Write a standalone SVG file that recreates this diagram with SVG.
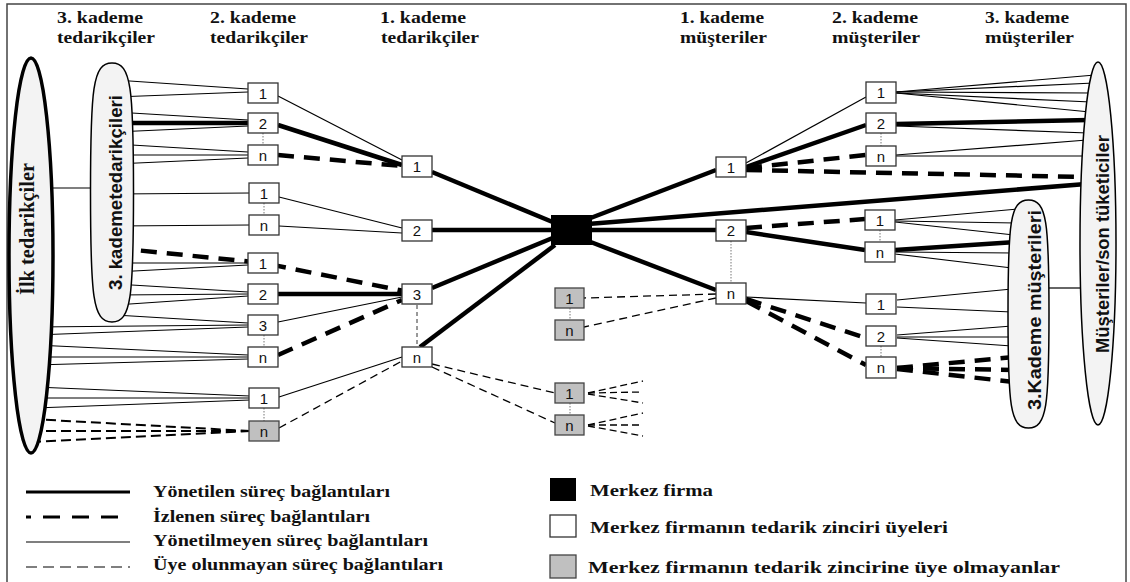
<svg xmlns="http://www.w3.org/2000/svg" width="1130" height="582" viewBox="0 0 1130 582">
<style>
.hd{font-family:"Liberation Serif","Times New Roman","DejaVu Serif",serif;font-weight:bold;font-size:17.5px;fill:#111}
.lg{font-family:"Liberation Serif","Times New Roman","DejaVu Serif",serif;font-weight:bold;font-size:17.5px;fill:#111}
.rs{font-family:"Liberation Sans",Arial,sans-serif;font-weight:bold;fill:#111;text-anchor:middle}
.rt{font-family:"Liberation Serif","Times New Roman","DejaVu Serif",serif;font-weight:bold;fill:#111;text-anchor:middle}
.nl{font-family:"Liberation Sans",Arial,sans-serif;font-size:15px;fill:#111;text-anchor:middle}
.box{fill:#fff;stroke:#333;stroke-width:1.3}
.gbox{fill:#c0c0c0;stroke:#444;stroke-width:1.3}
.m{stroke:#000;stroke-width:4.5;fill:none}
.i{stroke:#000;stroke-width:4.5;stroke-dasharray:16 10;fill:none}
.u{stroke:#000;stroke-width:1.2;fill:none}
.o{stroke:#000;stroke-width:1.3;stroke-dasharray:8 5;fill:none}
.o2{stroke:#000;stroke-width:2;stroke-dasharray:10 5;fill:none}
.os{stroke:#000;stroke-width:1.3;stroke-dasharray:7 4;fill:none}
.d{stroke:#777;stroke-width:1;stroke-dasharray:1.5 1.5;fill:none}
.dd{stroke:#333;stroke-width:1;stroke-dasharray:4 3;fill:none}
.ell{fill:#f3f3f3;stroke:#000;stroke-width:1.5}
</style>
<rect x="7" y="4" width="1119" height="620" fill="#fff" stroke="#444" stroke-width="1.5"/>

<g id="headers">
<text class="hd" x="57" y="23" textLength="86" lengthAdjust="spacingAndGlyphs">3. kademe</text>
<text class="hd" x="57" y="43" textLength="98" lengthAdjust="spacingAndGlyphs">tedarikçiler</text>
<text class="hd" x="210" y="23" textLength="86" lengthAdjust="spacingAndGlyphs">2. kademe</text>
<text class="hd" x="210" y="43" textLength="98" lengthAdjust="spacingAndGlyphs">tedarikçiler</text>
<text class="hd" x="380" y="23" textLength="86" lengthAdjust="spacingAndGlyphs">1. kademe</text>
<text class="hd" x="381" y="43" textLength="98" lengthAdjust="spacingAndGlyphs">tedarikçiler</text>
<text class="hd" x="680" y="23" textLength="84" lengthAdjust="spacingAndGlyphs">1. kademe</text>
<text class="hd" x="680" y="43" textLength="87" lengthAdjust="spacingAndGlyphs">müşteriler</text>
<text class="hd" x="832" y="23" textLength="86" lengthAdjust="spacingAndGlyphs">2. kademe</text>
<text class="hd" x="832" y="43" textLength="88" lengthAdjust="spacingAndGlyphs">müşteriler</text>
<text class="hd" x="985" y="23" textLength="84" lengthAdjust="spacingAndGlyphs">3. kademe</text>
<text class="hd" x="985" y="43" textLength="89" lengthAdjust="spacingAndGlyphs">müşteriler</text>
</g>

<g id="connectors">
<line class="u" x1="115" y1="80" x2="248" y2="89"/>
<line class="u" x1="115" y1="97" x2="248" y2="92"/>
<line class="u" x1="115" y1="112" x2="248" y2="120"/>
<line class="m" x1="115" y1="123" x2="248" y2="123"/>
<line class="u" x1="115" y1="132" x2="248" y2="126"/>
<line class="u" x1="115" y1="144" x2="248" y2="152"/>
<line class="u" x1="115" y1="155" x2="248" y2="155"/>
<line class="u" x1="115" y1="164" x2="248" y2="158"/>
<line class="u" x1="115" y1="194" x2="250" y2="193"/>
<line class="u" x1="115" y1="226" x2="250" y2="225"/>
<line class="u" x1="115" y1="263" x2="248" y2="263"/>
<line class="u" x1="115" y1="272" x2="248" y2="265"/>
<line class="u" x1="115" y1="284" x2="248" y2="292"/>
<line class="u" x1="115" y1="295" x2="248" y2="294"/>
<line class="u" x1="115" y1="305" x2="248" y2="296"/>
<line class="u" x1="115" y1="315" x2="248" y2="323"/>
<line class="u" x1="35" y1="327" x2="248" y2="325"/>
<line class="u" x1="35" y1="335" x2="248" y2="327"/>
<line class="u" x1="35" y1="345" x2="248" y2="355"/>
<line class="u" x1="35" y1="357" x2="248" y2="357"/>
<line class="u" x1="35" y1="365" x2="248" y2="359"/>
<line class="u" x1="35" y1="387" x2="250" y2="396"/>
<line class="u" x1="35" y1="398" x2="250" y2="398"/>
<line class="u" x1="35" y1="408" x2="250" y2="400"/>
<line class="o2" x1="31" y1="419" x2="250" y2="431"/>
<line class="o2" x1="31" y1="431" x2="250" y2="431"/>
<line class="o2" x1="31" y1="442" x2="250" y2="431"/>
<line class="u" x1="53" y1="188" x2="91" y2="188"/>
<line class="u" x1="278" y1="96" x2="402" y2="160"/>
<line class="m" x1="278" y1="125" x2="402" y2="165"/>
<line class="i" x1="278" y1="155" x2="402" y2="166"/>
<line class="u" x1="279" y1="197" x2="402" y2="228"/>
<line class="u" x1="279" y1="226" x2="402" y2="233"/>
<path class="i" d="M115,248 L263,263 L404,291"/>
<line class="m" x1="278" y1="294" x2="402" y2="294"/>
<line class="u" x1="278" y1="322" x2="402" y2="297"/>
<line class="i" x1="278" y1="355" x2="402" y2="300"/>
<line class="u" x1="279" y1="397" x2="402" y2="357"/>
<line class="o" x1="279" y1="428" x2="402" y2="361"/>
<line class="m" x1="432" y1="172" x2="555" y2="223"/>
<line class="m" x1="432" y1="230" x2="555" y2="230"/>
<line class="m" x1="432" y1="288" x2="555" y2="237"/>
<line class="m" x1="420" y1="347" x2="555" y2="245"/>
<line class="o" x1="432" y1="364" x2="555" y2="393"/>
<line class="o" x1="432" y1="367" x2="555" y2="423"/>
<line class="os" x1="588" y1="393" x2="643" y2="381"/>
<line class="os" x1="588" y1="393" x2="643" y2="392"/>
<line class="os" x1="588" y1="394" x2="643" y2="403"/>
<line class="os" x1="588" y1="425" x2="643" y2="413"/>
<line class="os" x1="588" y1="425" x2="643" y2="425"/>
<line class="os" x1="588" y1="426" x2="643" y2="436"/>
<line class="m" x1="588" y1="219" x2="716" y2="170"/>
<line class="m" x1="588" y1="224" x2="1086" y2="184"/>
<line class="m" x1="588" y1="230" x2="716" y2="230"/>
<line class="m" x1="588" y1="241" x2="716" y2="290"/>
<line class="u" x1="746" y1="163" x2="866" y2="97"/>
<line class="m" x1="746" y1="167" x2="866" y2="125"/>
<line class="i" x1="746" y1="168" x2="866" y2="155"/>
<line class="i" x1="746" y1="170" x2="1085" y2="177"/>
<line class="i" x1="746" y1="228" x2="865" y2="219"/>
<line class="m" x1="746" y1="232" x2="865" y2="250"/>
<line class="u" x1="746" y1="297" x2="866" y2="303"/>
<line class="i" x1="746" y1="299" x2="866" y2="338"/>
<line class="i" x1="746" y1="301" x2="866" y2="365"/>
<line class="o" x1="716" y1="294" x2="584" y2="298"/>
<line class="o" x1="716" y1="298" x2="584" y2="327"/>
<line class="u" x1="896" y1="92" x2="1095" y2="75"/>
<line class="u" x1="896" y1="92" x2="1094" y2="83"/>
<line class="u" x1="896" y1="92" x2="1092" y2="93"/>
<line class="u" x1="896" y1="93" x2="1091" y2="102"/>
<line class="u" x1="896" y1="93" x2="1090" y2="112"/>
<line class="m" x1="896" y1="124" x2="1089" y2="120"/>
<line class="u" x1="896" y1="126" x2="1088" y2="133"/>
<line class="u" x1="896" y1="155" x2="1087" y2="140"/>
<line class="u" x1="896" y1="156" x2="1087" y2="156"/>
<line class="u" x1="895" y1="220" x2="1018" y2="209"/>
<line class="u" x1="895" y1="221" x2="1016" y2="223"/>
<line class="u" x1="895" y1="222" x2="1014" y2="235"/>
<line class="m" x1="895" y1="250" x2="1016" y2="242"/>
<line class="u" x1="895" y1="252" x2="1014" y2="253"/>
<line class="u" x1="895" y1="254" x2="1012" y2="268"/>
<line class="u" x1="897" y1="300" x2="1012" y2="289"/>
<line class="u" x1="897" y1="307" x2="1012" y2="312"/>
<line class="u" x1="897" y1="335" x2="1012" y2="326"/>
<line class="u" x1="897" y1="337" x2="1012" y2="337"/>
<line class="u" x1="897" y1="338" x2="1012" y2="346"/>
<line class="i" x1="897" y1="368" x2="1014" y2="357"/>
<line class="i" x1="897" y1="368" x2="1014" y2="370"/>
<line class="i" x1="897" y1="369" x2="1014" y2="382"/>
<line class="u" x1="1049" y1="288" x2="1081" y2="288"/>
<line class="d" x1="263" y1="133" x2="263" y2="145"/>
<line class="d" x1="264" y1="203" x2="264" y2="215"/>
<line class="d" x1="264" y1="335" x2="264" y2="347"/>
<line class="d" x1="264" y1="408" x2="264" y2="421"/>
<line class="dd" x1="417" y1="305" x2="417" y2="347"/>
<line class="d" x1="731" y1="241" x2="731" y2="283"/>
<line class="d" x1="881" y1="133" x2="881" y2="146"/>
<line class="d" x1="880" y1="230" x2="880" y2="242"/>
<line class="d" x1="881" y1="346" x2="881" y2="357"/>
<line class="d" x1="570" y1="308" x2="570" y2="320"/>
<line class="d" x1="570" y1="403" x2="570" y2="415"/>
</g>

<g id="ilk-tedarikciler">
<ellipse cx="31" cy="255.5" rx="22" ry="197.5" fill="#f3f3f3" stroke="#000" stroke-width="3.5"/>
<text class="rt" font-size="20" transform="translate(28,229) rotate(-90)" y="6" textLength="132" lengthAdjust="spacingAndGlyphs">İlk tedarikçiler</text>
</g>
<g id="kademe3-tedarikciler">
<path class="ell" d="M112,63 C131.35,63 133.5,88.9 133.5,192.5 C133.5,296.1 131.35,322 112,322 C92.65,322 90.5,296.1 90.5,192.5 C90.5,88.9 92.65,63 112,63Z"/>
<text class="rs" font-size="19" transform="translate(112,192.5) rotate(-90)" y="10" textLength="195" lengthAdjust="spacingAndGlyphs">3. kademetedarikçileri</text>
</g>
<g id="son-tuketiciler">
<ellipse class="ell" cx="1098" cy="243.5" rx="18" ry="181.5"/>
<text class="rs" font-size="18" transform="translate(1098,244) rotate(-90)" y="11" textLength="218" lengthAdjust="spacingAndGlyphs">Müşteriler/son tüketiciler</text>
</g>
<g id="kademe3-musteriler">
<path class="ell" d="M1028.5,200 C1046.95,200 1049,222.8 1049,314 C1049,405.2 1046.95,428 1028.5,428 C1010.05,428 1008,405.2 1008,314 C1008,222.8 1010.05,200 1028.5,200Z"/>
<text class="rs" font-size="19" transform="translate(1029,310) rotate(-90)" y="12" textLength="200" lengthAdjust="spacingAndGlyphs">3.Kademe müşterileri</text>
</g>

<g id="merkez-firma"><rect x="551" y="215" width="41" height="30" fill="#000"/></g>

<g id="t2-1a"><rect class="box" x="248" y="83" width="30" height="20"/><text class="nl" x="263" y="98.5">1</text></g>
<g id="t2-2a"><rect class="box" x="248" y="113" width="30" height="20"/><text class="nl" x="263" y="128.5">2</text></g>
<g id="t2-na"><rect class="box" x="248" y="145" width="30" height="20"/><text class="nl" x="263" y="160.5">n</text></g>
<g id="t2-1b"><rect class="box" x="249" y="183" width="30" height="20"/><text class="nl" x="264" y="198.5">1</text></g>
<g id="t2-nb"><rect class="box" x="249" y="215" width="30" height="20"/><text class="nl" x="264" y="230.5">n</text></g>
<g id="t2-1c"><rect class="box" x="248" y="253" width="30" height="20"/><text class="nl" x="263" y="268.5">1</text></g>
<g id="t2-2c"><rect class="box" x="248" y="284" width="30" height="20"/><text class="nl" x="263" y="299.5">2</text></g>
<g id="t2-3c"><rect class="box" x="248" y="315" width="30" height="20"/><text class="nl" x="263" y="330.5">3</text></g>
<g id="t2-nc"><rect class="box" x="248" y="347" width="30" height="20"/><text class="nl" x="263" y="362.5">n</text></g>
<g id="t2-1d"><rect class="box" x="249" y="388" width="30" height="20"/><text class="nl" x="264" y="403.5">1</text></g>
<g id="t2-nd"><rect class="gbox" x="249" y="421" width="30" height="20"/><text class="nl" x="264" y="436.5">n</text></g>

<g id="t1-1"><rect class="box" x="402" y="156" width="30" height="21"/><text class="nl" x="417" y="172">1</text></g>
<g id="t1-2"><rect class="box" x="402" y="220" width="30" height="21"/><text class="nl" x="417" y="236">2</text></g>
<g id="t1-3"><rect class="box" x="402" y="284" width="30" height="20"/><text class="nl" x="417" y="299.5">3</text></g>
<g id="t1-n"><rect class="box" x="402" y="347" width="30" height="20"/><text class="nl" x="417" y="362.5">n</text></g>

<g id="g-1a"><rect class="gbox" x="555" y="288" width="29" height="20"/><text class="nl" x="569.5" y="303.5">1</text></g>
<g id="g-na"><rect class="gbox" x="555" y="320" width="29" height="20"/><text class="nl" x="569.5" y="335.5">n</text></g>
<g id="g-1b"><rect class="gbox" x="555" y="383" width="29" height="20"/><text class="nl" x="569.5" y="398.5">1</text></g>
<g id="g-nb"><rect class="gbox" x="555" y="415" width="29" height="20"/><text class="nl" x="569.5" y="430.5">n</text></g>

<g id="m1-1"><rect class="box" x="716" y="157" width="30" height="20"/><text class="nl" x="731" y="172.5">1</text></g>
<g id="m1-2"><rect class="box" x="716" y="220" width="30" height="21"/><text class="nl" x="731" y="236">2</text></g>
<g id="m1-n"><rect class="box" x="716" y="283" width="30" height="21"/><text class="nl" x="731" y="299">n</text></g>

<g id="m2-1a"><rect class="box" x="866" y="82" width="30" height="21"/><text class="nl" x="881" y="98">1</text></g>
<g id="m2-2a"><rect class="box" x="866" y="113" width="30" height="20"/><text class="nl" x="881" y="128.5">2</text></g>
<g id="m2-na"><rect class="box" x="866" y="146" width="30" height="20"/><text class="nl" x="881" y="161.5">n</text></g>
<g id="m2-1b"><rect class="box" x="865" y="210" width="30" height="20"/><text class="nl" x="880" y="225.5">1</text></g>
<g id="m2-nb"><rect class="box" x="865" y="242" width="30" height="20"/><text class="nl" x="880" y="257.5">n</text></g>
<g id="m2-1c"><rect class="box" x="866" y="294" width="30" height="20"/><text class="nl" x="881" y="309.5">1</text></g>
<g id="m2-2c"><rect class="box" x="866" y="326" width="30" height="20"/><text class="nl" x="881" y="341.5">2</text></g>
<g id="m2-nc"><rect class="box" x="866" y="357" width="30" height="21"/><text class="nl" x="881" y="373">n</text></g>

<g id="legend">
<line x1="26" y1="492" x2="130" y2="492" stroke="#000" stroke-width="3"/>
<line x1="26" y1="517" x2="130" y2="517" stroke="#000" stroke-width="3" stroke-dasharray="5 12 17 12 17 12 17 12 17"/>
<line x1="26" y1="542" x2="130" y2="542" stroke="#000" stroke-width="1.2"/>
<line x1="26" y1="567" x2="130" y2="567" stroke="#000" stroke-width="1.2" stroke-dasharray="11 6"/>
<text class="lg" x="153" y="497" textLength="237" lengthAdjust="spacingAndGlyphs">Yönetilen süreç bağlantıları</text>
<text class="lg" x="153" y="522" textLength="217" lengthAdjust="spacingAndGlyphs">İzlenen süreç bağlantıları</text>
<text class="lg" x="153" y="546" textLength="275" lengthAdjust="spacingAndGlyphs">Yönetilmeyen süreç bağlantıları</text>
<text class="lg" x="153" y="570" textLength="290" lengthAdjust="spacingAndGlyphs">Üye olunmayan süreç bağlantıları</text>
<rect x="550" y="478" width="26" height="23" fill="#000"/>
<rect x="550" y="515" width="26" height="22" fill="#fff" stroke="#333" stroke-width="1.3"/>
<rect x="550" y="555" width="26" height="23" fill="#c0c0c0" stroke="#444" stroke-width="1.3"/>
<text class="lg" x="590" y="496" textLength="123" lengthAdjust="spacingAndGlyphs">Merkez firma</text>
<text class="lg" x="590" y="533" textLength="358" lengthAdjust="spacingAndGlyphs">Merkez firmanın tedarik zinciri üyeleri</text>
<text class="lg" x="588" y="573" textLength="472" lengthAdjust="spacingAndGlyphs">Merkez firmanın tedarik zincirine üye olmayanlar</text>
</g>
</svg>
